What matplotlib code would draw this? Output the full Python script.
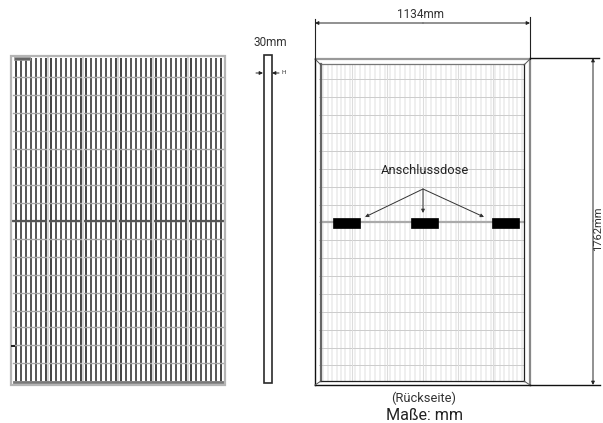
import matplotlib
matplotlib.use("Agg")
import matplotlib.pyplot as plt
from matplotlib.patches import Rectangle

plt.rcParams['font.family'] = ['Roboto', 'DejaVu Sans']

front_cols = [13, 48, 83, 118, 153, 188, 223]
front_rows = [58, 77, 95, 113, 131, 149, 167, 185, 203, 221, 239, 257, 275, 293, 311, 327, 345, 363, 381]
back_cols = [321, 352, 387, 423, 458, 493, 524]
back_rows = [65, 79, 97, 115, 133, 151, 169, 187, 205, 222, 240, 258, 276, 294, 312, 330, 348, 365, 381]
cell_stripes = 7
box_left = [333, 411, 492]
box_width = 27
arrow_tips = [(365, 217), (423, 213), (484, 217)]
arrow_start = (423, 189)

fig = plt.figure(figsize=(6.03, 4.23), dpi=100)
ax = fig.add_axes([0, 0, 1, 1])
ax.set_xlim(0, 603)
ax.set_ylim(423, 0)
ax.axis("off")


def dim_arrow(start, end, color="#222222", lw=0.7, size=5):
    ax.annotate("", xy=end, xytext=start,
                arrowprops=dict(arrowstyle="-|>", color=color, lw=lw, mutation_scale=size,
                                shrinkA=0, shrinkB=0))


# -------------------------
# front of the module
# -------------------------
for left, right in zip(front_cols[:-1], front_cols[1:]):
    step = (right - left) / cell_stripes
    for i in range(cell_stripes):
        x = left + step * (i + 0.5)
        # outer stripes of a cell come out darker than the middle ones
        stripe_color = "#333333" if i in (0, cell_stripes - 1) else "#484848"
        ax.plot([x, x], [front_rows[0], front_rows[-1]], color=stripe_color, lw=1.3, solid_capstyle="butt")
for y in front_rows[1:-1]:
    ax.plot([front_cols[0], front_cols[-1]], [y, y], color="#a8a8a8", lw=1.0)
ax.plot([front_cols[0], front_cols[-1]], [221, 221], color="#555555", lw=1.6)
for x in front_cols[1:-1]:
    ax.plot([x, x], [front_rows[0], front_rows[-1]], color="#d8d8d8", lw=1.5)
ax.plot([14, 224], [382, 382], color="#777777", lw=2)
ax.add_patch(Rectangle((11, 56), 214, 329, fill=False, ec="#b5b5b5", lw=1.6, zorder=3))
ax.add_patch(Rectangle((14, 57), 16, 3, fc="#666666", ec="#999999", lw=0.5, zorder=3))
ax.add_patch(Rectangle((11, 345), 4, 2, fc="#222222", ec="none", zorder=3))

# -------------------------
# side view
# -------------------------
ax.add_patch(Rectangle((263.5, 55.5), 8.5, 328, fill=False, ec="#2a2a2a", lw=1.2))
dim_arrow((256, 73), (263, 73))
dim_arrow((279, 73), (272, 73))
ax.text(284, 73, "H", fontsize=4.5, ha="center", va="center", color="#333333")
ax.text(270, 42, "30mm", fontsize=8.5, ha="center", va="center", color="#333333")

# -------------------------
# back of the module
# -------------------------
for left, right in zip(back_cols[:-1], back_cols[1:]):
    step = (right - left) / cell_stripes
    for i in range(cell_stripes):
        x = left + step * (i + 0.5)
        ax.plot([x, x], [back_rows[0], back_rows[-1]], color="#eeeeee", lw=1.3)
for y in back_rows[1:-1]:
    ax.plot([back_cols[0] - 2, back_cols[-1]], [y, y], color="#cccccc", lw=0.7)
for x in back_cols[1:-1]:
    ax.plot([x, x], [back_rows[0], back_rows[-1]], color="#dcdcdc", lw=0.8)
ax.plot([back_cols[0], back_cols[-1]], [222, 222], color="#aaaaaa", lw=1.6)

# inner and outer frame
ax.plot([320, 524], [64.5, 64.5], color="#777777", lw=0.9)
ax.plot([320.5, 320.5], [64, 381], color="#666666", lw=1.6)
ax.plot([524, 524], [64, 381], color="#222222", lw=0.9)
ax.plot([320, 524], [381, 381], color="#222222", lw=0.9)
ax.plot([316, 530], [59.5, 59.5], color="#999999", lw=1.6)
ax.plot([530, 530], [59, 385], color="#888888", lw=1.6)
ax.plot([315, 315], [59, 385], color="#111111", lw=1.0)
ax.plot([315, 530], [385.5, 385.5], color="#111111", lw=1.0)
for a, b in [((315, 59), (321, 65)), ((530, 59), (524, 65)), ((315, 385), (321, 381)), ((530, 385), (524, 381))]:
    ax.plot([a[0], b[0]], [a[1], b[1]], color="#555555", lw=0.7)

# junction boxes
for x in box_left:
    ax.add_patch(Rectangle((x, 218), box_width, 10, fc="black", ec="black", lw=0.5, zorder=3))
for tip in arrow_tips:
    dim_arrow(arrow_start, tip, color="#333333", lw=0.7, size=5)
ax.text(425, 171, "Anschlussdose", fontsize=9.3, ha="center", va="center", color="#222222")

# dimensions
ax.plot([315, 315], [19, 59], color="#222222", lw=0.8)
ax.plot([530, 530], [17, 59], color="#222222", lw=0.8)
dim_arrow((423, 23), (315, 23))
dim_arrow((423, 23), (530, 23))
ax.text(420, 14, "1134mm", fontsize=8.5, ha="center", va="center", color="#333333")

ax.plot([530, 599], [58, 58], color="#111111", lw=1.0)
ax.plot([530, 600], [385, 385], color="#111111", lw=1.0)
dim_arrow((593, 221), (593, 58))
dim_arrow((593, 221), (593, 385))
ax.text(598, 229, "1762mm", fontsize=8, rotation=90, ha="center", va="center", color="#333333")

ax.text(424, 398, "(Rückseite)", fontsize=9.3, ha="center", va="center", color="#333333")
ax.text(424, 416, "Maße: mm", fontsize=11.6, ha="center", va="center", color="#222222")

fig.savefig("out.png", dpi=100)
